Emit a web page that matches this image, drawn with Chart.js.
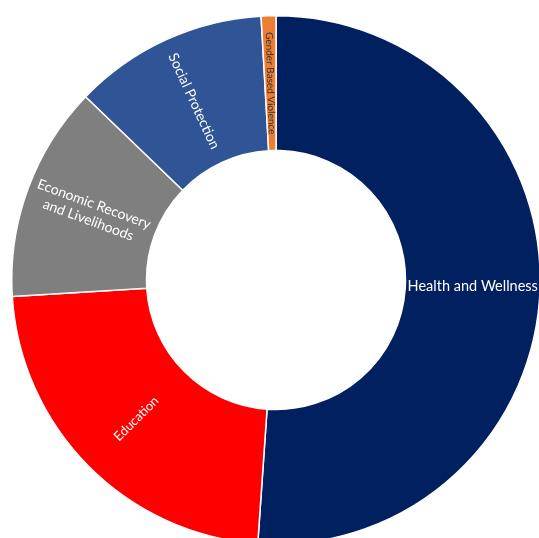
<!DOCTYPE html>
<html>
<head>
<meta charset="utf-8">
<script src="https://cdn.jsdelivr.net/npm/chart.js@4/dist/chart.umd.min.js"></script>
<style>
  html, body { margin: 0; padding: 0; background: #fff; overflow: hidden; width: 539px; height: 538px; }
  #wrap { position: absolute; left: 11px; top: 15px; width: 530px; height: 530px; }
</style>
</head>
<body>
<div id="wrap"><canvas id="chart" width="530" height="530"></canvas></div>
<script>
// share of funding by sector (percent)
const categories = ['Health and Wellness', 'Education', 'Economic Recovery and Livelihoods', 'Social Protection', 'Gender Based Violence'];
const values = [51.1, 22.9, 13.2, 11.9, 0.9];
const labelLines = [
  ['Health and Wellness'],
  ['Education'],
  ['Economic Recovery', 'and Livelihoods'],
  ['Social Protection'],
  ['Gender Based Violence']
];
const colors = ['#002060', '#FF0000', '#7F7F7F', '#2F5597', '#ED7D31'];
const textColors = ['#ffffff', '#ffffff', '#ffffff', '#ffffff', '#333333'];
const fontSizes = [14.5, 13, 14, 14, 10];

// draw the labels inside each slice, rotated along the radius like Excel does
const sliceLabels = {
  id: 'sliceLabels',
  afterDatasetsDraw(chart) {
    const ctx = chart.ctx;
    const meta = chart.getDatasetMeta(0);
    meta.data.forEach((arc, i) => {
      const p = arc.getProps(['x', 'y', 'startAngle', 'endAngle', 'innerRadius', 'outerRadius'], true);
      const mid = (p.startAngle + p.endAngle) / 2;
      const r = (p.innerRadius + p.outerRadius) / 2;
      const cx = p.x + Math.cos(mid) * r;
      const cy = p.y + Math.sin(mid) * r;

      // reading inward along the radius; fall back to horizontal if it would be upside down
      let rot = mid - Math.PI;
      while (rot <= -Math.PI) rot += 2 * Math.PI;
      while (rot > Math.PI) rot -= 2 * Math.PI;
      if (Math.abs(rot) > Math.PI / 2) rot = 0;

      const lines = labelLines[i];
      const size = fontSizes[i];
      const lh = size * 1.2;
      ctx.save();
      ctx.translate(cx, cy);
      ctx.rotate(rot);
      ctx.font = size + 'px Lato, "Open Sans", sans-serif';
      ctx.fillStyle = textColors[i];
      ctx.textAlign = 'center';
      ctx.textBaseline = 'middle';
      lines.forEach((t, k) => {
        ctx.fillText(t, 0, (k - (lines.length - 1) / 2) * lh);
      });
      ctx.restore();
    });
  }
};

new Chart(document.getElementById('chart'), {
  type: 'doughnut',
  data: {
    labels: categories,
    datasets: [{
      data: values,
      backgroundColor: colors,
      borderColor: '#ffffff',
      borderWidth: 1.5
    }]
  },
  options: {
    responsive: false,
    animation: false,
    cutout: '49%',
    plugins: {
      legend: { display: false },
      tooltip: { enabled: false }
    }
  },
  plugins: [sliceLabels]
});
</script>
</body>
</html>
